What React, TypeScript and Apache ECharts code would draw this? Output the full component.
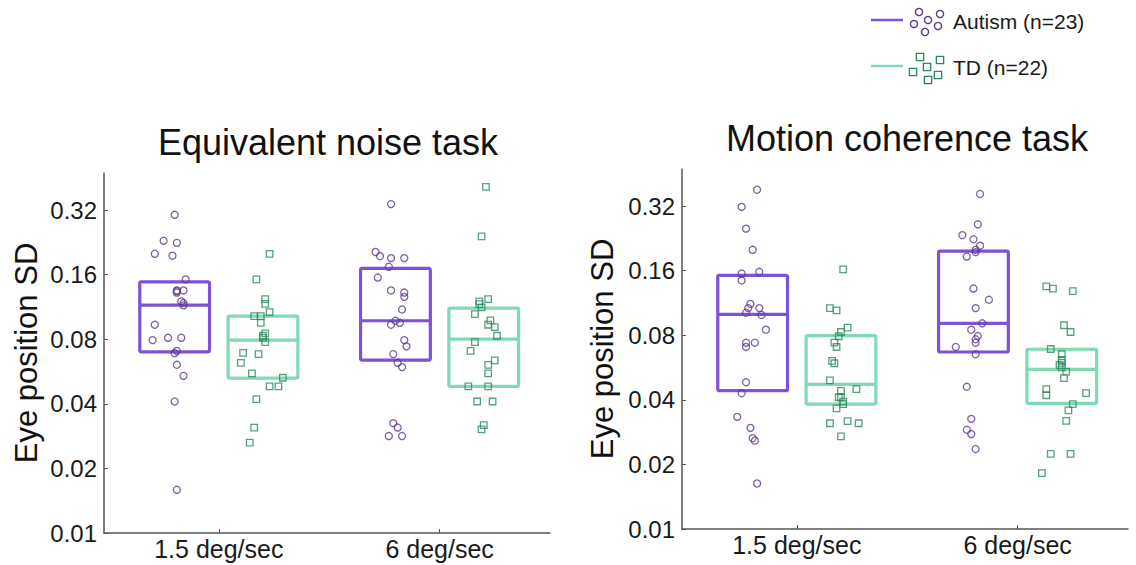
import React, { useEffect, useRef } from 'react';
import * as echarts from 'echarts';

const categories = ['1.5 deg/sec', '6 deg/sec'];
const categoryPositions = [1, 2];
const tickValues = [0.01, 0.02, 0.04, 0.08, 0.16, 0.32];
const panelTitles = ['Equivalent noise task', 'Motion coherence task'];
const groupNames = ['Autism (n=23)', 'TD (n=22)'];
const yAxisName = 'Eye position SD';

// boxes: [x position, lower quartile, median, upper quartile]
const enAutismBoxes = [[0.8, 0.0699, 0.1153, 0.148], [1.8, 0.0639, 0.0975, 0.171]];
const enTdBoxes = [[1.2, 0.0527, 0.0792, 0.1025], [2.2, 0.0482, 0.0801, 0.1117]];
const mcAutismBoxes = [[0.8, 0.0441, 0.1001, 0.152], [1.8, 0.0668, 0.0909, 0.197]];
const mcTdBoxes = [[1.2, 0.0382, 0.0472, 0.0796], [2.2, 0.0385, 0.0555, 0.0688]];

// individual participants: [jittered x, eye position SD]
const enAutismPoints = [
  [0.80, 0.304], [0.75, 0.230], [0.81, 0.225], [0.71, 0.200], [0.79, 0.196], [0.85, 0.152],
  [0.81, 0.135], [0.84, 0.135], [0.81, 0.132], [0.83, 0.120], [0.84, 0.115], [0.71, 0.0934],
  [0.70, 0.0792], [0.77, 0.0812], [0.83, 0.0812], [0.81, 0.0706], [0.80, 0.0689], [0.81, 0.0608],
  [0.84, 0.0540], [0.80, 0.0410], [0.81, 0.0159], [0.81, 0.134], [0.84, 0.118],
  [1.78, 0.341], [1.71, 0.204], [1.73, 0.195], [1.78, 0.191], [1.84, 0.191], [1.77, 0.174],
  [1.72, 0.155], [1.78, 0.135], [1.84, 0.132], [1.84, 0.126], [1.83, 0.110], [1.80, 0.0975],
  [1.82, 0.0954], [1.78, 0.0934], [1.84, 0.0792], [1.85, 0.0741], [1.79, 0.0682], [1.81, 0.0621],
  [1.83, 0.0593], [1.79, 0.0325], [1.81, 0.0310], [1.77, 0.0283], [1.83, 0.0283],
];
const enTdPoints = [
  [1.23, 0.200], [1.17, 0.152], [1.21, 0.123], [1.21, 0.117], [1.23, 0.107], [1.16, 0.1025],
  [1.19, 0.1025], [1.19, 0.0954], [1.21, 0.0851], [1.20, 0.0812], [1.21, 0.0776], [1.11, 0.0691],
  [1.18, 0.0682], [1.10, 0.0621], [1.15, 0.0554], [1.29, 0.0529], [1.23, 0.0482], [1.27, 0.0482],
  [1.17, 0.0421], [1.16, 0.0310], [1.14, 0.0264], [1.20, 0.0830],
  [2.21, 0.410], [2.19, 0.241], [2.18, 0.120], [2.22, 0.123], [2.18, 0.1166], [2.19, 0.1125],
  [2.16, 0.1047], [2.23, 0.0979], [2.22, 0.0934], [2.25, 0.0911], [2.26, 0.0830], [2.16, 0.0776],
  [2.14, 0.0706], [2.25, 0.0637], [2.22, 0.0608], [2.22, 0.0554], [2.13, 0.0482], [2.22, 0.0482],
  [2.17, 0.0410], [2.24, 0.0410], [2.20, 0.0318], [2.19, 0.0304],
];
const mcAutismPoints = [
  [0.82, 0.381], [0.75, 0.317], [0.77, 0.251], [0.80, 0.200], [0.75, 0.155], [0.83, 0.158],
  [0.75, 0.144], [0.79, 0.112], [0.78, 0.107], [0.83, 0.107], [0.77, 0.1018], [0.84, 0.0994],
  [0.86, 0.0849], [0.77, 0.0738], [0.77, 0.0705], [0.81, 0.0738], [0.77, 0.0483], [0.75, 0.0429],
  [0.73, 0.0333], [0.79, 0.0296], [0.80, 0.0265], [0.81, 0.0258], [0.82, 0.0163],
  [1.83, 0.364], [1.82, 0.263], [1.75, 0.234], [1.80, 0.224], [1.83, 0.209], [1.81, 0.195],
  [1.77, 0.186], [1.80, 0.132], [1.87, 0.117], [1.81, 0.107], [1.84, 0.0909], [1.79, 0.0849],
  [1.82, 0.0793], [1.81, 0.0766], [1.81, 0.0738], [1.72, 0.0705], [1.81, 0.0652], [1.77, 0.0460],
  [1.79, 0.0326], [1.77, 0.0290], [1.79, 0.0277], [1.81, 0.0236], [1.81, 0.200],
];
const mcTdPoints = [
  [1.21, 0.162], [1.15, 0.107], [1.18, 0.1045], [1.23, 0.0867], [1.20, 0.0828], [1.19, 0.0791],
  [1.17, 0.0738], [1.18, 0.0705], [1.16, 0.0607], [1.17, 0.0592], [1.15, 0.0493], [1.27, 0.0449],
  [1.20, 0.0440], [1.19, 0.0411], [1.20, 0.0411], [1.21, 0.0392], [1.21, 0.0382], [1.18, 0.0365],
  [1.15, 0.0311], [1.23, 0.0318], [1.28, 0.0311], [1.20, 0.0270],
  [2.13, 0.135], [2.16, 0.132], [2.25, 0.1285], [2.21, 0.0890], [2.24, 0.0828], [2.15, 0.0690],
  [2.20, 0.0652], [2.20, 0.0613], [2.20, 0.0594], [2.20, 0.0567], [2.22, 0.0541], [2.21, 0.0505],
  [2.13, 0.0449], [2.13, 0.0420], [2.31, 0.0430], [2.25, 0.0382], [2.23, 0.0357], [2.22, 0.0319],
  [2.15, 0.0224], [2.24, 0.0224], [2.11, 0.0182], [2.19, 0.0581],
];

const FONT = '"Liberation Sans", Arial, Helvetica, sans-serif';
const AUT_BOX = '#7d52d6';
const AUT_DOT = '#5d3a8e';
const TD_BOX = '#80dab3';
const TD_DOT = '#2a8a5e';
const AXIS = '#555555';
const BOX_HALF = 0.158;

function boxSeries(data: number[][], color: string, idx: number) {
  return {
    type: 'custom',
    xAxisIndex: idx,
    yAxisIndex: idx,
    data,
    encode: { x: 0, y: [1, 2, 3] },
    z: 2,
    renderItem: (params: any, api: any) => {
      const x = api.value(0);
      const q1 = api.value(1);
      const med = api.value(2);
      const q3 = api.value(3);
      const tl = api.coord([x - BOX_HALF, q3]);
      const br = api.coord([x + BOX_HALF, q1]);
      const m = api.coord([x - BOX_HALF, med]);
      const mr = api.coord([x + BOX_HALF, med]);
      return {
        type: 'group',
        children: [
          {
            type: 'rect',
            shape: { x: tl[0], y: tl[1], width: br[0] - tl[0], height: br[1] - tl[1], r: 1.5 },
            style: { fill: 'none', stroke: color, lineWidth: 3.2, lineJoin: 'round' },
          },
          {
            type: 'line',
            shape: { x1: m[0], y1: m[1], x2: mr[0], y2: mr[1] },
            style: { stroke: color, lineWidth: 3.2 },
          },
        ],
      };
    },
  };
}

function pointSeries(data: number[][], symbol: string, color: string, idx: number, size: number) {
  return {
    type: 'scatter',
    xAxisIndex: idx,
    yAxisIndex: idx,
    data,
    symbol,
    symbolSize: size,
    z: 3,
    itemStyle: { color: 'rgba(255,255,255,0)', borderColor: color, borderWidth: 1.3 },
  };
}

function xAxis(idx: number) {
  return {
    gridIndex: idx,
    type: 'value',
    min: 0.48,
    max: 2.5,
    axisLine: { show: true, onZero: false, lineStyle: { color: AXIS, width: 1.5 } },
    axisTick: { show: true, inside: true, length: 4, customValues: categoryPositions, lineStyle: { color: AXIS, width: 1 } },
    axisLabel: {
      customValues: categoryPositions,
      formatter: (v: number) => categories[Math.round(v) - 1] ?? '',
      fontSize: 25,
      fontFamily: FONT,
      color: '#1a1a1a',
      margin: 3,
    },
    splitLine: { show: false },
  };
}

function yAxis(idx: number, gap: number) {
  return {
    gridIndex: idx,
    type: 'log',
    logBase: 2,
    min: 0.01,
    max: 0.476,
    name: yAxisName,
    nameLocation: 'middle',
    nameGap: gap,
    nameTextStyle: { fontSize: 31, fontFamily: FONT, color: '#111' },
    axisLine: { show: true, onZero: false, lineStyle: { color: AXIS, width: 1.5 } },
    axisTick: { show: true, inside: true, length: 4, customValues: tickValues, lineStyle: { color: AXIS, width: 1 } },
    minorTick: { show: false },
    axisLabel: {
      customValues: tickValues,
      formatter: (v: number) => String(Math.round(v * 100) / 100),
      fontSize: 24,
      fontFamily: FONT,
      color: '#1a1a1a',
      margin: 7,
    },
    splitLine: { show: false },
  };
}

export default function App() {
  const ref = useRef<HTMLDivElement>(null);
  useEffect(() => {
    if (!ref.current) return;
    const chart = echarts.init(ref.current, null, { renderer: 'svg' });
    const legendCircles = [[919, 12], [940, 14], [914, 24], [928, 20], [938, 26], [925, 32]];
    const legendSquares = [[920, 57], [940, 60], [913, 72], [927, 67], [938, 75], [928, 80]];
    const graphic: any[] = [
      { type: 'text', x: 328, y: 142, style: { text: panelTitles[0], font: `36px ${FONT}`, fill: '#111', align: 'center', verticalAlign: 'middle' } },
      { type: 'text', x: 907, y: 138, style: { text: panelTitles[1], font: `36px ${FONT}`, fill: '#111', align: 'center', verticalAlign: 'middle' } },
      { type: 'line', shape: { x1: 871, y1: 20, x2: 903, y2: 20 }, style: { stroke: AUT_BOX, lineWidth: 2.5 } },
      { type: 'line', shape: { x1: 871, y1: 66, x2: 903, y2: 66 }, style: { stroke: TD_BOX, lineWidth: 2.5 } },
      { type: 'text', x: 953, y: 21, style: { text: groupNames[0], font: `21px ${FONT}`, fill: '#1a1a1a', verticalAlign: 'middle' } },
      { type: 'text', x: 953, y: 67, style: { text: groupNames[1], font: `21px ${FONT}`, fill: '#1a1a1a', verticalAlign: 'middle' } },
      ...legendCircles.map(([cx, cy]) => ({ type: 'circle', shape: { cx, cy, r: 3.6 }, style: { fill: 'none', stroke: AUT_DOT, lineWidth: 1.4 } })),
      ...legendSquares.map(([cx, cy]) => ({ type: 'rect', shape: { x: cx - 3.6, y: cy - 3.6, width: 7.2, height: 7.2 }, style: { fill: 'none', stroke: TD_DOT, lineWidth: 1.4 } })),
    ];
    chart.setOption({
      animation: false,
      backgroundColor: '#ffffff',
      grid: [
        { left: 104, top: 173, width: 446, height: 360 },
        { left: 682, top: 169, width: 446, height: 360 },
      ],
      xAxis: [xAxis(0), xAxis(1)],
      yAxis: [yAxis(0, 62), yAxis(1, 64)],
      graphic,
      series: [
        boxSeries(enAutismBoxes, AUT_BOX, 0),
        boxSeries(enTdBoxes, TD_BOX, 0),
        boxSeries(mcAutismBoxes, AUT_BOX, 1),
        boxSeries(mcTdBoxes, TD_BOX, 1),
        pointSeries(enAutismPoints, 'circle', AUT_DOT, 0, 7),
        pointSeries(enTdPoints, 'rect', TD_DOT, 0, 6.5),
        pointSeries(mcAutismPoints, 'circle', AUT_DOT, 1, 7),
        pointSeries(mcTdPoints, 'rect', TD_DOT, 1, 6.5),
      ],
    });
    return () => chart.dispose();
  }, []);
  return <div ref={ref} style={{ position: 'absolute', left: 0, top: 0, width: 1136, height: 565 }} />;
}
